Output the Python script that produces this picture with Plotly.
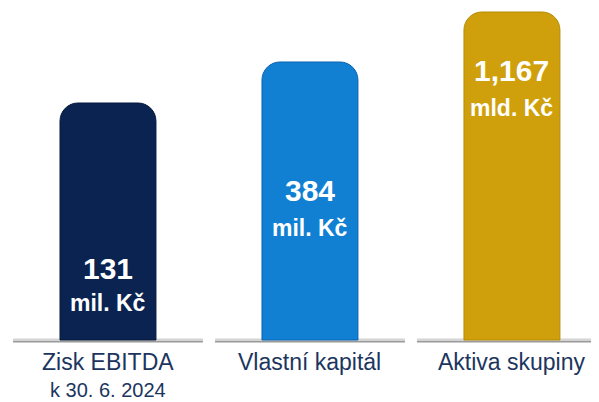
import plotly.graph_objects as go

# ---- data ----
categories = ["Zisk EBITDA", "Vlastní kapitál", "Aktiva skupiny"]
category_sublabels = ["k 30. 6. 2024", "", ""]
bar_heights = [237, 278, 328]          # visual bar heights (relative scale)
value_labels = ["131", "384", "1,167"]
unit_labels = ["mil. Kč", "mil. Kč", "mld. Kč"]
bar_colors = ["#0a2350", "#1180d3", "#cfa00b"]
edge_colors = ["#06183a", "#0a62b0", "#b58a06"]

FONT = "Arial, 'Liberation Sans', sans-serif"
x = list(range(len(categories)))

fig = go.Figure()
fig.add_trace(go.Bar(
    x=x, y=bar_heights, width=0.475,
    marker=dict(color=bar_colors, cornerradius=18,
                line=dict(color=edge_colors, width=1)),
    hoverinfo="skip",
))

# baseline segments under each bar
shapes = []
for i in x:
    shapes.append(dict(type="rect", xref="x", yref="y", x0=i - 0.47, x1=i + 0.47,
                       y0=-1.5, y1=1.5, fillcolor="#d4d4d4", line=dict(width=0),
                       layer="below"))
    shapes.append(dict(type="rect", xref="x", yref="y", x0=i - 0.47, x1=i + 0.47,
                       y0=-2.5, y1=-1.0, fillcolor="#9a9a9a", line=dict(width=0),
                       layer="below"))

# label positions (layout)
value_y = [72, 150, 270]
unit_y = [37, 112, 232]

annotations = []
for i in x:
    annotations.append(dict(x=i, y=value_y[i], xref="x", yref="y", text=f"<b>{value_labels[i]}</b>",
                            showarrow=False, font=dict(family=FONT, size=30, color="white")))
    annotations.append(dict(x=i, y=unit_y[i], xref="x", yref="y", text=f"<b>{unit_labels[i]}</b>",
                            showarrow=False, font=dict(family=FONT, size=23, color="white")))
    annotations.append(dict(x=i, y=-0.0504, xref="x", yref="paper", yanchor="middle",
                            text=categories[i],
                            showarrow=False, font=dict(family=FONT, size=23, color="#1c355e")))
    if category_sublabels[i]:
        annotations.append(dict(x=i, y=-0.1335, xref="x", yref="paper", yanchor="middle",
                                text=category_sublabels[i],
                                showarrow=False, font=dict(family=FONT, size=20, color="#1c355e")))

fig.update_layout(
    width=591, height=394,
    margin=dict(l=0, r=0, t=0, b=57),
    paper_bgcolor="white", plot_bgcolor="white",
    showlegend=False,
    xaxis=dict(range=[-0.495, 2.431], visible=False, fixedrange=True),
    yaxis=dict(range=[-5, 332], visible=False, fixedrange=True),
    shapes=shapes,
    annotations=annotations,
)

fig.write_html("out.html")
